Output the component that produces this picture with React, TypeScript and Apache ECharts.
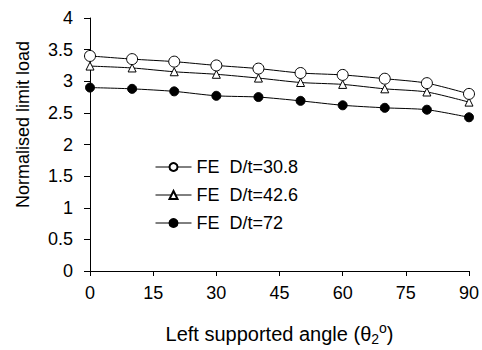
import React, { useEffect, useRef } from "react";
import * as echarts from "echarts";

const angles = [0, 10, 20, 30, 40, 50, 60, 70, 80, 90];
const dt308 = [3.4, 3.35, 3.31, 3.25, 3.2, 3.13, 3.1, 3.04, 2.97, 2.8];
const dt426 = [3.24, 3.21, 3.15, 3.11, 3.05, 2.98, 2.95, 2.88, 2.83, 2.67];
const dt72 = [2.9, 2.88, 2.84, 2.77, 2.75, 2.69, 2.62, 2.58, 2.55, 2.43];
const seriesNames = ["FE  D/t=30.8", "FE  D/t=42.6", "FE  D/t=72"];
const xTitle = "Left supported angle (θ{sub|2}{sup|o})";
const yTitle = "Normalised limit load";

const FONT = "Liberation Sans, Arial, sans-serif";

export default function App() {
  const ref = useRef<HTMLDivElement>(null);
  useEffect(() => {
    if (!ref.current) return;
    const chart = echarts.init(ref.current, undefined, { renderer: "svg" });
    const pair = (ys: number[]) => angles.map((a, i) => [a, ys[i]]);
    const lineStyle = { color: "#000", width: 1 };
    chart.setOption({
      animation: false,
      backgroundColor: "#fff",
      textStyle: { fontFamily: FONT, color: "#000" },
      grid: { left: 90, right: 13, top: 18, bottom: 79, outerBoundsMode: "none", containLabel: false },
      legend: {
        orient: "vertical",
        left: 150,
        top: 153,
        itemWidth: 36,
        itemHeight: 10,
        itemGap: 10,
        itemTextGap: 5,
        data: seriesNames,
        lineStyle: { width: 1 },
        textStyle: { fontSize: 18, color: "#000", fontFamily: FONT },
      },
      xAxis: {
        type: "value",
        min: 0,
        max: 90,
        interval: 15,
        name: xTitle,
        nameLocation: "middle",
        nameGap: 50,
        nameTextStyle: {
          fontSize: 20,
          color: "#000",
          fontFamily: FONT,
          rich: {
            sub: { fontSize: 14, padding: [10, 0, 0, 0], fontFamily: FONT, color: "#000" },
            sup: { fontSize: 14, padding: [0, 0, 12, 0], fontFamily: FONT, color: "#000" },
          },
        },
        axisLine: { show: true, lineStyle: { color: "#000", width: 1 } },
        axisTick: { show: true, length: 5, lineStyle: { color: "#000" } },
        axisLabel: { fontSize: 18, color: "#000", margin: 13, fontFamily: FONT },
        splitLine: { show: false },
      },
      yAxis: {
        type: "value",
        min: 0,
        max: 4,
        interval: 0.5,
        name: yTitle,
        nameLocation: "middle",
        nameGap: 58,
        nameTextStyle: { fontSize: 18, color: "#000", fontFamily: FONT, padding: [0, 0, 0, 40] },
        axisLine: { show: true, lineStyle: { color: "#000", width: 1 } },
        axisTick: { show: true, length: 6, lineStyle: { color: "#000" } },
        axisLabel: { fontSize: 18, color: "#000", margin: 17, fontFamily: FONT },
        splitLine: { show: false },
      },
      series: [
        {
          name: seriesNames[2],
          type: "line",
          data: pair(dt72),
          smooth: 0.25,
          symbol: "circle",
          symbolSize: 9,
          lineStyle,
          itemStyle: { color: "#000", borderColor: "#000", borderWidth: 1 },
          z: 2,
        },
        {
          name: seriesNames[1],
          type: "line",
          data: pair(dt426),
          smooth: 0.25,
          symbol: "triangle",
          symbolSize: 8,
          lineStyle,
          itemStyle: { color: "#fff", borderColor: "#000", borderWidth: 1 },
          z: 3,
        },
        {
          name: seriesNames[0],
          type: "line",
          data: pair(dt308),
          smooth: 0.25,
          symbol: "circle",
          symbolSize: 11,
          lineStyle,
          itemStyle: { color: "#fff", borderColor: "#000", borderWidth: 1 },
          z: 4,
        },
      ],
    });
    return () => chart.dispose();
  }, []);
  return (
    <div
      ref={ref}
      style={{ position: "fixed", left: 0, top: 0, width: 482, height: 350 }}
    />
  );
}
